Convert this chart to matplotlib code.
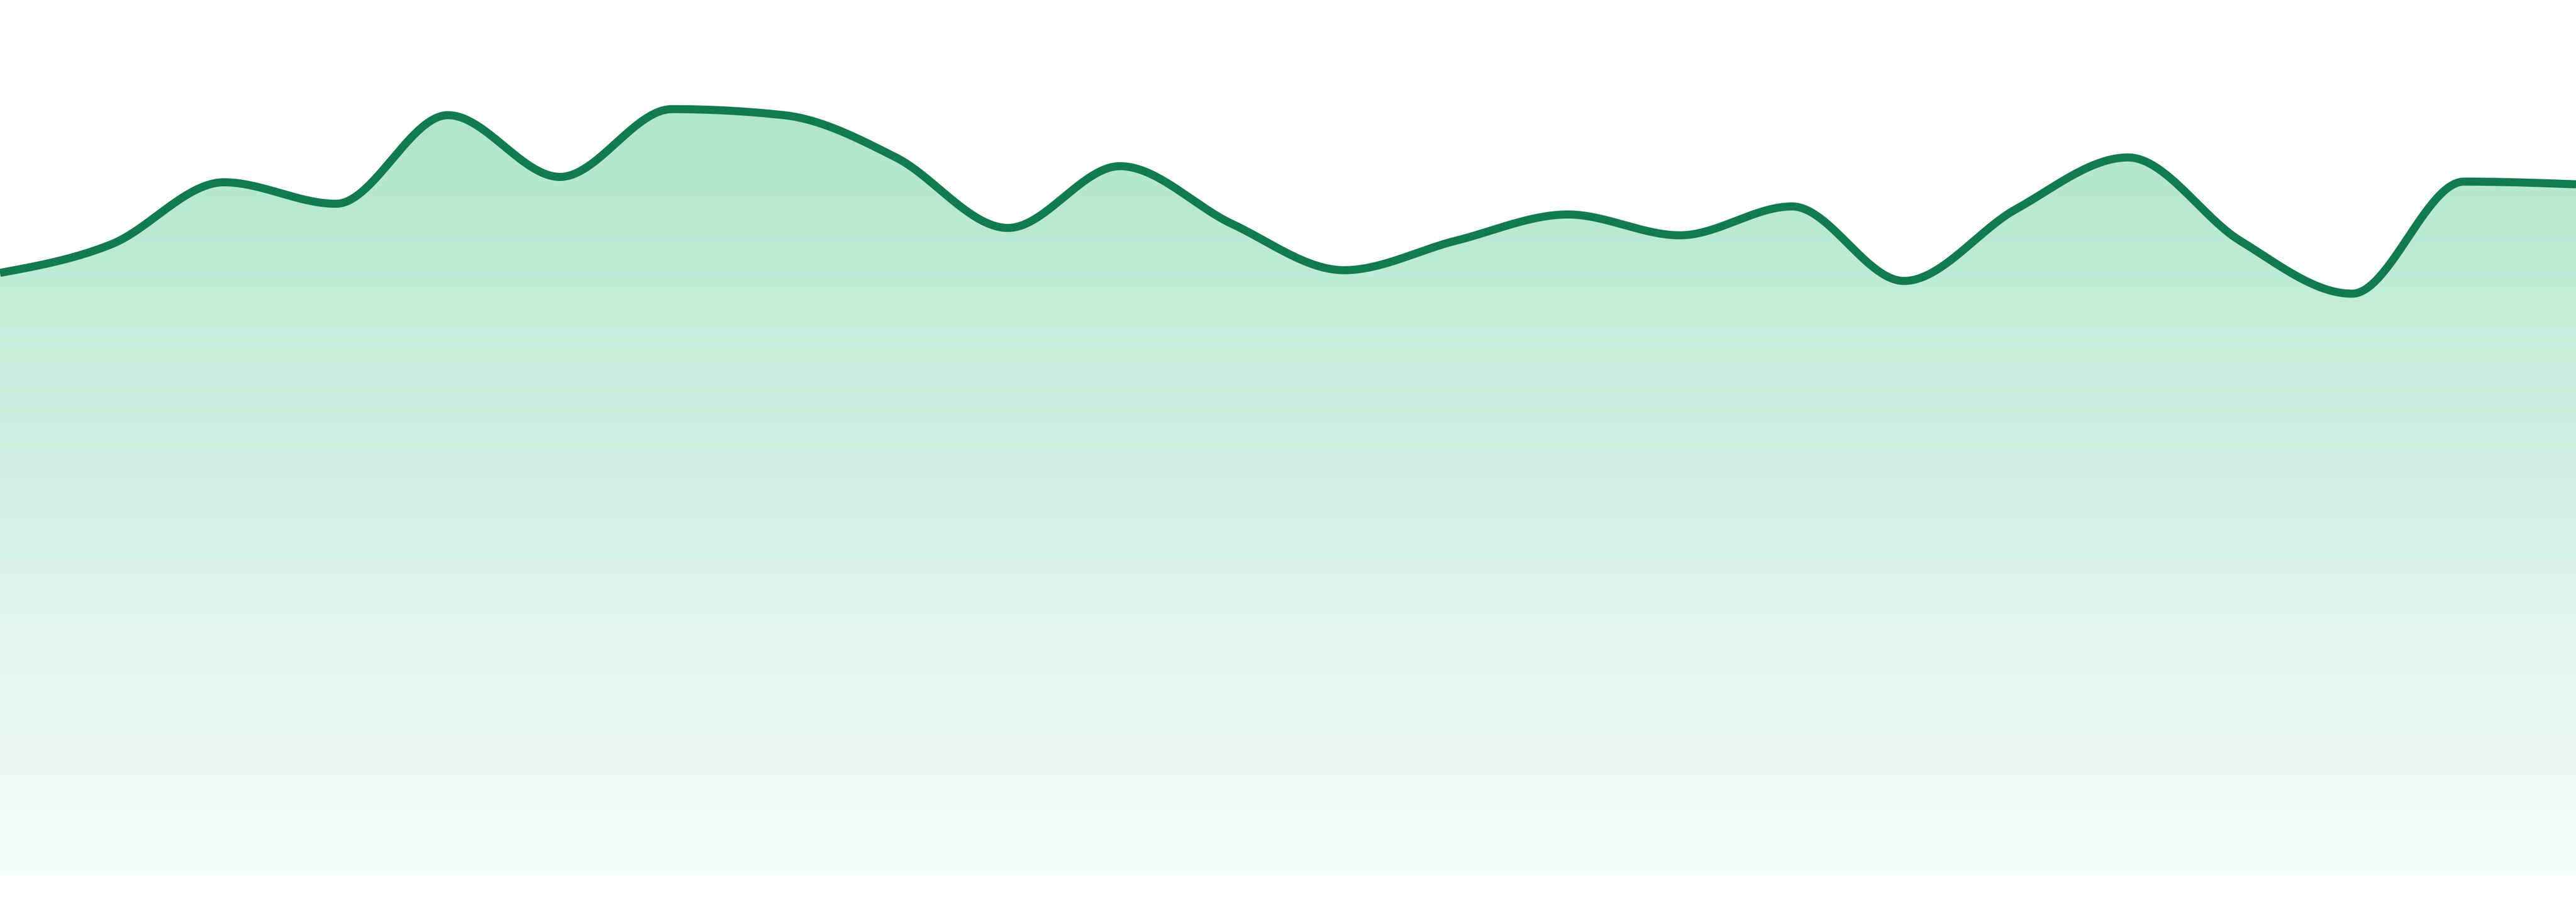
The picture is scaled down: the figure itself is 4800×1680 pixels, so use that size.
import numpy as np
import matplotlib
matplotlib.use("Agg")
import matplotlib.pyplot as plt
from matplotlib.colors import LinearSegmentedColormap
from matplotlib.patches import Polygon

# one value per step, evenly spaced along the x axis
values = [89.9, 94.2, 103.4, 100.2, 113.4, 104.2, 114.3, 113.4, 107.1, 96.6,
          105.8, 97.2, 90.3, 94.7, 98.6, 95.5, 99.8, 88.7, 99.4, 107.1,
          94.7, 86.8, 103.5, 103.1]
steps = list(range(len(values)))

line_color = "#127a50"
fill_top = (176 / 255, 229 / 255, 207 / 255)
fill_bottom = (247 / 255, 252 / 255, 250 / 255)


def monotone_x(x, y, n=60):
    # same shape as d3.curveMonotoneX
    x = np.asarray(x, float)
    y = np.asarray(y, float)
    h = np.diff(x)
    s = np.diff(y) / h
    t = np.zeros_like(y)
    for i in range(1, len(y) - 1):
        p = (s[i - 1] * h[i] + s[i] * h[i - 1]) / (h[i - 1] + h[i])
        t[i] = (np.sign(s[i - 1]) + np.sign(s[i])) * min(abs(s[i - 1]), abs(s[i]), 0.5 * abs(p))
    t[0] = (3 * s[0] - t[1]) / 2
    t[-1] = (3 * s[-1] - t[-2]) / 2
    xs, ys = [], []
    for i in range(len(h)):
        u = np.linspace(0, 1, n, endpoint=False)
        h00 = 2 * u ** 3 - 3 * u ** 2 + 1
        h10 = u ** 3 - 2 * u ** 2 + u
        h01 = -2 * u ** 3 + 3 * u ** 2
        h11 = u ** 3 - u ** 2
        xs.append(x[i] + u * h[i])
        ys.append(h00 * y[i] + h10 * h[i] * t[i] + h01 * y[i + 1] + h11 * h[i] * t[i + 1])
    xs.append([x[-1]])
    ys.append([y[-1]])
    return np.concatenate(xs), np.concatenate(ys)


sx, sy = monotone_x(steps, values)

fig = plt.figure(figsize=(16, 5.6), dpi=300)
ax = fig.add_axes([0, 0, 1, 1])
ax.set_xlim(steps[0], steps[-1])
ax.set_ylim(-3.84, 130.56)
ax.axis("off")

grad_top = max(sy)
cmap = LinearSegmentedColormap.from_list("area", [fill_bottom, fill_top])
grad = np.linspace(0, 1, 256).reshape(-1, 1)
img = ax.imshow(grad, cmap=cmap, origin="lower", aspect="auto",
                extent=[steps[0], steps[-1], 0, grad_top], zorder=1)
poly = Polygon(np.column_stack([np.r_[sx, sx[-1], sx[0]], np.r_[sy, 0, 0]]),
               closed=True, facecolor="none", edgecolor="none")
ax.add_patch(poly)
img.set_clip_path(poly)

ax.plot(sx, sy, color=line_color, lw=3.6, solid_capstyle="butt", zorder=2)

fig.savefig("out.png", dpi=300, facecolor="white")
